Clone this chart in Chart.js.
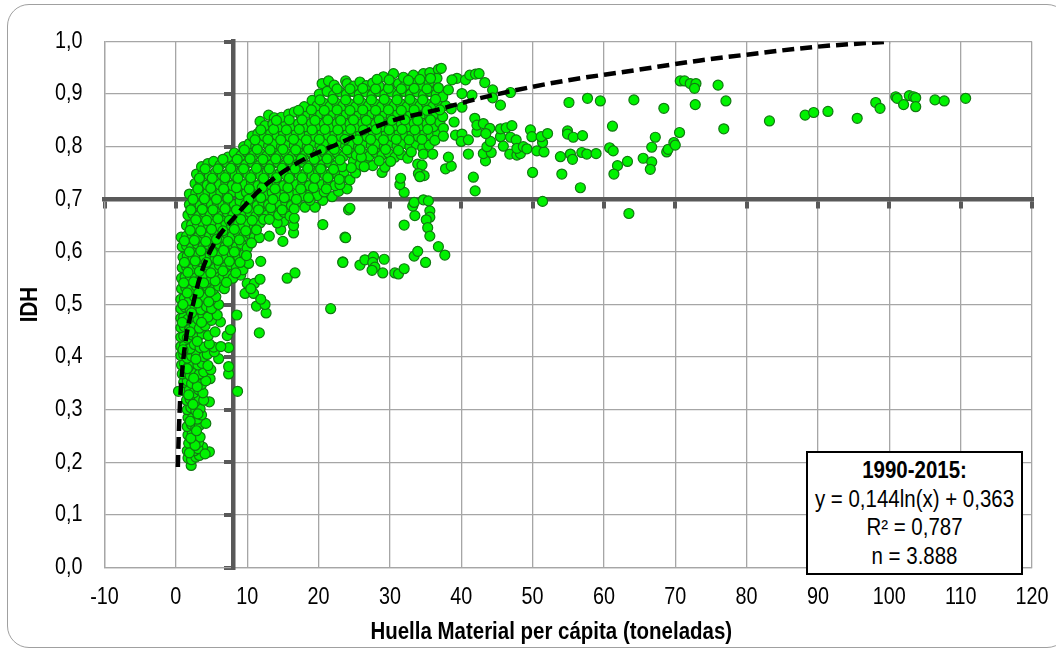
<!DOCTYPE html>
<html>
<head>
<meta charset="utf-8">
<script src="https://cdn.jsdelivr.net/npm/chart.js@4"></script>
<style>
  html, body { margin: 0; padding: 0; background: #fff; overflow: hidden; }
  #marco { position: absolute; left: 7px; top: 4px; width: 1060px; height: 642px; border: 1px solid #a0a0a0; border-radius: 22px; }
  #grafico { position: absolute; left: 0; top: 0; }
  #caja {
    position: absolute; left: 806px; top: 451px; width: 213px; height: 117px;
    border: 2px solid #000; background: #fff; color: #000; text-align: center;
    font: 23px/28.6px "Liberation Sans", sans-serif; padding-top: 3px; white-space: nowrap;
  }
  #caja span { display: block; margin: 0 -15px; transform: scaleX(0.89); }
</style>
</head>
<body>
<div id="marco"></div>
<canvas id="grafico" width="1056" height="648"></canvas>
<div id="caja"><span><b>1990-2015:</b></span><span>y = 0,144ln(x) + 0,363</span><span>R² = 0,787</span><span>n = 3.888</span></div>
<script>
const ticksHuella = ["-10", "0", "10", "20", "30", "40", "50", "60", "70", "80", "90", "100", "110", "120"];
const ticksIDH = ["0,0", "0,1", "0,2", "0,3", "0,4", "0,5", "0,6", "0,7", "0,8", "0,9", "1,0"];
const tituloX = "Huella Material per cápita (toneladas)";

// IDH < 0,5: columna estrecha de la izquierda
const puntosBajos = [
  [2.15,.194],[4.7,.22],[3.75,.229],[2.25,.229],[1.7,.208],[2.2,.205],[2.8,.21],[3.3,.213],[1.6,.222],[2.6,.222],[3.1,.226],[4.1,.216],
  [1.8,.236],[2.5,.24],[3.2,.238],[1.7,.252],[2.3,.255],[2.9,.25],[3.4,.248],[1.6,.268],[2.2,.272],[2.8,.265],[3.3,.27],[4.2,.274],
  [1.7,.285],[2.4,.288],[3,.282],[3.6,.29],[1.6,.3],[2.1,.304],[2.8,.298],[3.4,.302],[4.7,.315],[1.5,.318],[2,.32],[2.7,.315],[3.3,.322],[3.9,.318],
  [.37,.335],[1.3,.335],[1.9,.338],[2.5,.332],[3.2,.338],[3.8,.332],[8.65,.335],[1.1,.352],[1.6,.355],[2.2,.35],[3,.352],[3.6,.348],[4.8,.359],[4.2,.355],
  [.9,.368],[1.4,.372],[2,.365],[2.65,.37],[3.3,.368],[3.9,.372],[4.9,.376],[7.4,.368],[.8,.385],[1.2,.388],[1.8,.382],[2.4,.39],[3.1,.385],[3.7,.388],[4.5,.384],[7.4,.382],
  [.7,.403],[1.1,.405],[1.6,.398],[2.2,.402],[2.9,.405],[3.9,.401],[4.4,.405],[6,.397],[5.4,.41],[.7,.42],[1.2,.422],[1.7,.415],[2,.416],[2.6,.424],[3.4,.418],[4,.419],[5.3,.419],[7.4,.418],[4.7,.425],[6.3,.42],
  [.7,.438],[1.1,.44],[1.6,.436],[2.3,.442],[3,.437],[3.7,.444],[4.55,.441],[5.5,.448],[7.2,.441],[11.7,.446],[.7,.456],[1.2,.458],[1.9,.452],[2.6,.46],[3.3,.455],[4.1,.46],[7.65,.452],[6.25,.467],[5,.47],
  [.7,.474],[1.1,.476],[1.7,.472],[2.4,.478],[3.1,.472],[3.8,.48],[4.5,.476],[5.8,.48],[8.55,.48],[.7,.492],[1.3,.495],[2,.49],[2.7,.496],[3.5,.49],[4.3,.496],[5,.492],[6,.5],[12.65,.484],[11.3,.497],[12.5,.5],[21.7,.492]
];

// IDH 0,5 - 0,7: parte media de la curva
const puntosMedios = [
  [.7,.51],[1.2,.512],[1.9,.508],[2.6,.515],[3.3,.51],[4.1,.514],[4.9,.508],[5.6,.515],[9.7,.521],[10.9,.521],[11.9,.51],
  [.8,.53],[1.4,.532],[2.1,.528],[2.9,.535],[3.6,.53],[4.4,.534],[5.2,.528],[6,.535],[6.8,.53],[10,.54],[11,.54],[11.8,.548],[10.5,.53],
  [.8,.55],[1.3,.552],[2,.548],[2.7,.555],[3.5,.55],[4.2,.554],[5,.548],[5.8,.555],[6.5,.55],[7.3,.556],[8,.55],[9.1,.556],[15.6,.55],[16.7,.56],
  [.9,.57],[1.5,.572],[2.3,.568],[3,.575],[3.8,.57],[4.6,.574],[5.4,.568],[6.1,.575],[6.9,.57],[7.7,.576],[8.5,.57],[9.4,.566],[10.2,.578],[11.9,.582],
  [1,.59],[1.6,.592],[2.4,.588],[3.2,.595],[4,.59],[4.8,.594],[5.5,.588],[6.3,.595],[7.1,.59],[7.9,.596],[8.8,.59],[9.6,.596],
  [.9,.61],[1.5,.612],[2.2,.608],[3,.615],[3.8,.61],[4.6,.614],[5.3,.608],[6.1,.615],[6.9,.61],[7.7,.616],[8.5,.61],[9.2,.615],[10,.607],
  [.75,.628],[1.5,.63],[2.3,.632],[3.1,.628],[3.9,.635],[4.7,.63],[5.5,.634],[6.3,.628],[7.1,.635],[7.9,.63],[8.7,.636],[9.5,.63],[10.3,.635],[11,.628],[11.7,.627],[13.1,.63],[15,.62],
  [1.5,.65],[2.2,.652],[3,.648],[3.8,.655],[4.6,.65],[5.4,.654],[6.2,.648],[7,.655],[7.8,.65],[8.6,.656],[9.4,.65],[10.2,.655],[11,.648],[11.8,.655],[14.7,.642],[16.5,.636],[16.5,.65],[15.1,.658],[14.2,.655],
  [1.7,.67],[2.4,.672],[3.2,.668],[4,.675],[4.8,.67],[5.6,.674],[6.4,.668],[7.2,.675],[8,.67],[8.8,.676],[9.6,.67],[10.4,.675],[11.2,.668],[12,.675],[12.8,.67],[13.6,.676],[14.4,.67],[15.2,.675],[16,.668],[16.6,.664],[20.6,.652],
  [1.9,.69],[2.6,.692],[3.4,.688],[4.2,.695],[5,.69],[5.8,.694],[6.6,.688],[7.4,.695],[8.2,.69],[9,.696],[9.8,.69],[10.6,.695],[11.4,.688],[12.2,.695],[13,.69],[13.8,.696],[14.6,.69],[15.4,.695],[16.2,.688],[17,.694],[18.1,.685],[19.5,.685],[20.6,.698],[21.9,.705]
];

// IDH >= 0,7 hasta x = 38: la nube densa
const puntosNube = [
  [1.9,.71],[2.8,.712],[3.6,.708],[4.5,.714],[5.4,.708],[6.3,.713],[7.2,.707],[8.1,.714],[9,.709],[9.9,.713],[10.8,.707],[11.7,.714],[12.6,.709],[13.5,.713],[14.4,.707],[15.3,.714],[16.2,.708],[17.1,.713],[18,.706],[18.9,.712],[19.8,.707],[20.8,.714],[22.8,.715],
  [2.7,.73],[3.5,.732],[4.4,.727],[5.2,.733],[6.1,.728],[7,.732],[7.9,.726],[8.8,.733],[9.7,.728],[10.6,.732],[11.5,.726],[12.4,.733],[13.3,.728],[14.2,.732],[15.1,.726],[16,.733],[16.9,.728],[17.8,.732],[18.7,.726],[19.6,.733],[20.5,.728],[21.4,.732],[22.3,.726],[23.3,.74],[24,.72],
  [2.9,.748],[3.8,.75],[4.7,.745],[5.6,.752],[6.5,.746],[7.4,.75],[8.3,.745],[9.2,.752],[10.1,.747],[11,.75],[11.9,.745],[12.8,.752],[13.7,.747],[14.6,.75],[15.5,.745],[16.4,.752],[17.3,.747],[18.2,.75],[19.1,.745],[20,.752],[20.9,.747],[21.8,.75],[22.7,.745],[23.6,.752],[24.4,.737],[25.2,.75],
  [3.6,.762],[4.5,.768],[5.3,.772],[6.2,.765],[7.1,.77],[8,.764],[8.9,.771],[9.8,.766],[10.7,.77],[11.6,.764],[12.5,.771],[13.4,.766],[14.3,.77],[15.2,.764],[16.1,.771],[17,.766],[17.9,.77],[18.8,.764],[19.7,.771],[20.6,.766],[21.5,.77],[22.4,.764],[23.3,.762],[24.9,.772],[25.8,.766],[26.7,.77],[27.6,.764],[28.9,.751],[29.3,.761],
  [7.3,.78],[8.2,.788],[9.1,.783],[10,.789],[10.9,.784],[11.8,.788],[12.7,.782],[13.6,.789],[14.5,.784],[15.4,.788],[16.3,.782],[17.2,.789],[18.1,.784],[19,.788],[19.9,.782],[20.8,.789],[21.7,.784],[22.6,.788],[23.5,.782],[24.4,.789],[25.3,.784],[26.2,.788],[27.1,.782],[28,.789],[28.9,.784],[29.8,.788],[30.7,.78],[31.6,.785],[32.5,.778],
  [9.5,.8],[10.3,.806],[11.2,.801],[12.1,.807],[13,.802],[13.9,.806],[14.8,.8],[15.7,.807],[16.6,.802],[17.5,.806],[18.4,.8],[19.3,.807],[20.2,.802],[21.1,.806],[22,.8],[22.9,.807],[23.8,.802],[24.7,.806],[25.6,.8],[26.5,.807],[27.4,.802],[28.3,.806],[29.2,.8],[30.1,.807],[31,.802],[31.9,.806],[32.8,.8],[33.7,.805],[34.6,.798],[35.5,.803],
  [10.7,.82],[11.5,.825],[12.4,.82],[13.3,.826],[14.2,.821],[15.1,.825],[16,.819],[16.9,.826],[17.8,.821],[18.7,.825],[19.6,.819],[20.5,.826],[21.4,.821],[22.3,.825],[23.2,.819],[24.1,.826],[25,.821],[25.9,.825],[26.8,.819],[27.7,.826],[28.6,.821],[29.5,.825],[30.4,.819],[31.3,.826],[32.2,.821],[33.1,.825],[34,.819],[34.9,.826],[35.8,.821],[36.7,.825],
  [11.8,.848],[13,.86],[13.8,.855],[12.5,.84],[13.6,.843],[14.5,.838],[15.4,.845],[16.3,.84],[17.2,.844],[18.1,.838],[19,.845],[19.9,.84],[20.8,.844],[21.7,.838],[22.6,.845],[23.5,.84],[24.4,.844],[25.3,.838],[26.2,.845],[27.1,.84],[28,.844],[28.9,.838],[29.8,.845],[30.7,.84],[31.6,.844],[32.5,.838],[33.4,.845],[34.3,.84],[35.2,.844],[36.1,.838],[37,.846],
  [14.8,.856],[15.8,.862],[16.6,.866],[17.6,.858],[18.5,.864],[19.4,.857],[20.3,.863],[21.2,.858],[22.1,.864],[23,.857],[23.9,.863],[24.8,.858],[25.7,.864],[26.6,.857],[27.5,.863],[28.4,.858],[29.3,.864],[30.2,.857],[31.1,.863],[32,.858],[32.9,.864],[33.8,.857],[34.7,.863],[35.6,.858],[36.5,.864],[37.4,.857],
  [18,.876],[19.1,.888],[19.8,.878],[20.7,.883],[21.6,.877],[22.5,.883],[23.4,.878],[24.3,.882],[25.2,.876],[26.1,.883],[27,.878],[27.9,.882],[28.8,.876],[29.7,.883],[30.6,.878],[31.5,.882],[32.4,.876],[33.3,.883],[34.2,.878],[35.1,.882],[36,.876],[36.9,.883],[37.8,.878],[38.6,.872],
  [20.1,.9],[20.5,.92],[21.4,.925],[21.2,.905],[22.1,.898],[23,.904],[23.8,.925],[23.9,.9],[24.8,.905],[25.7,.9],[26.6,.904],[27.5,.898],[28.4,.905],[29.3,.9],[30.2,.904],[31.1,.898],[32,.905],[32.9,.9],[33.8,.904],[34.7,.898],[35.6,.905],[36.5,.9],[37.4,.895],[38.2,.908],
  [22.2,.917],[24,.92],[24.9,.915],[25.8,.923],[26.7,.916],[27.6,.921],[28.5,.915],[29.1,.933],[30,.918],[30.5,.939],[31.2,.92],[32.1,.916],[33.3,.936],[33.4,.92],[34.7,.939],[34.4,.917],[35.6,.941],[35.5,.921],[36.8,.947],[37.2,.949],[36.6,.93],[31.9,.932]
];

// segunda pasada por las zonas mas tupidas, donde los circulos se montan
const puntosRelleno = [
  [1.9,.218],[2.7,.232],[2.1,.246],[2.9,.26],[2,.278],[3.1,.292],[2.4,.31],[1.8,.328],[3,.344],[2.5,.36],[1.6,.378],[2.8,.396],[1,.414],[3,.43],[2,.448],[.9,.466],[3.6,.466],[2.2,.484],[1,.5],[3,.503],[4.6,.505],
  [1.6,.522],[3.2,.522],[4.8,.524],[1.1,.541],[2.5,.543],[3.9,.541],[5.5,.545],[7.1,.542],[1.7,.561],[3.3,.563],[4.9,.56],[6.6,.564],[8.4,.56],[1.2,.58],[2.7,.583],[4.3,.58],[5.9,.584],[7.5,.582],[9,.58],
  [1.9,.6],[3.5,.602],[5.1,.6],[6.7,.603],[8.2,.6],[9.9,.593],[1.2,.621],[2.6,.622],[4.2,.62],[5.7,.624],[7.3,.62],[8.9,.623],[10.6,.617],[2,.641],[3.5,.64],[5,.643],[6.6,.64],[8.2,.643],[9.8,.64],[11.3,.642],[2.8,.661],[4.3,.66],[5.9,.663],[7.5,.66],[9.1,.662],[10.7,.66],[12.3,.662],[13.1,.662],
  [2.1,.68],[3.7,.681],[5.2,.68],[6.9,.682],[8.5,.68],[10,.683],[11.6,.68],[13.3,.684],[14.9,.68],[16.6,.682],[18.8,.698],[2.4,.7],[4,.701],[5.7,.7],[7.3,.702],[10.2,.7],[11.9,.703],[13.6,.7],[15.2,.703],[16.9,.7],[18.6,.703],
  [3.1,.72],[4.9,.721],[6.7,.72],[8.5,.722],[10.3,.72],[12.1,.722],[13.9,.72],[15.7,.722],[17.5,.72],[19.3,.722],[21.1,.72],[23,.728],[3.3,.74],[5.1,.74],[6.9,.741],[8.7,.74],[10.5,.741],[12.3,.74],[14.1,.741],[15.9,.74],[17.7,.741],[19.5,.74],[21.3,.741],[22.9,.738],[24.6,.76],
  [4.1,.758],[5.9,.758],[7.7,.759],[9.5,.758],[11.3,.759],[13.1,.758],[14.9,.759],[16.7,.758],[18.5,.759],[20.3,.758],[22.1,.757],[26,.78],[6.6,.776],[8.6,.776],[10.4,.777],[12.2,.776],[14,.777],[15.8,.776],[17.6,.777],[19.4,.776],[21.2,.777],[23,.775],[26.4,.762],[28.5,.773],[30.1,.772],
  [9.6,.794],[11.4,.795],[13.2,.794],[15,.795],[16.8,.794],[18.6,.795],[20.4,.794],[22.2,.795],[24,.794],[25.8,.795],[27.6,.794],[29.4,.795],[31.2,.793],[33,.79],[34.7,.786],[11.1,.813],[12.9,.814],[14.7,.813],[16.5,.814],[18.3,.813],[20.1,.814],[21.9,.813],[23.7,.814],[25.5,.813],[27.3,.814],[29.1,.813],[30.9,.814],[32.7,.813],[34.5,.814],[36.3,.812],
  [11.9,.832],[13.7,.833],[15.5,.832],[17.3,.833],[19.1,.832],[20.9,.833],[22.7,.832],[24.5,.833],[26.3,.832],[28.1,.833],[29.9,.832],[31.7,.833],[33.5,.832],[35.3,.833],[37.5,.835],[14.1,.85],[15.9,.851],[17.7,.851],[19.5,.85],[21.3,.851],[23.1,.85],[24.9,.851],[26.7,.85],[28.5,.851],[30.3,.85],[32.1,.851],[33.9,.85],[35.7,.851],
  [17.2,.869],[19,.87],[20.8,.869],[22.6,.87],[24.4,.869],[26.2,.87],[28,.869],[29.8,.87],[31.6,.869],[33.4,.87],[35.2,.869],[37,.87],[20.2,.889],[22,.89],[23.8,.889],[25.6,.89],[27.4,.889],[29.2,.89],[31,.889],[32.8,.89],[34.6,.889],[36.4,.89],[22.6,.91],[24.4,.91],[26.2,.911],[28,.91],[29.8,.911],[31.6,.91],[33.4,.911],[35.2,.91],[36.8,.912],[28.2,.928],[29.9,.927],[32.6,.926],[34.2,.928],[35.7,.93]
];

// a la derecha de la nube: puntos sueltos que se leen uno a uno
const puntosSueltos = [
  [23.4,.581],[23.7,.628],[24.2,.68],[24.4,.683],[23.8,.627],[23.4,.58],[25.8,.575],[26.5,.585],[27.7,.591],[27.6,.58],[27.9,.571],[27.5,.565],[29,.56],[29.2,.586],[30.7,.56],[31.2,.558],[32,.568],[33.4,.592],[33.9,.601],[35,.58],[36.8,.61],[37.7,.594],
  [32,.651],[33.5,.669],[33.2,.687],[33.4,.694],[34.7,.699],[35.4,.697],[35.6,.678],[35.6,.666],[35.1,.661],[35.3,.646],[35.6,.63],[32,.713],[31.4,.728],[31.5,.74],[33.9,.767],[34.5,.765],[34,.749],[34.8,.745],[34.2,.743],
  [37.8,.758],[38.6,.763],[38.2,.78],[36,.786],[41,.786],[41.7,.742],[41.95,.716],[43.4,.773],[43.1,.787],[44.2,.789],[43.6,.8],[44.1,.81],[37.5,.82],[39.2,.822],[40.1,.824],[40,.81],[41,.813],[42.2,.828],[41.9,.854],[42.2,.841],[43.1,.844],[44,.835],[43.45,.825],[39,.847],
  [41.5,.898],[40.1,.901],[40.1,.875],[39.4,.93],[38.7,.927],[40.6,.927],[41.2,.936],[42,.938],[42.5,.939],[43.3,.922],[44.4,.908],[44.4,.893],[45.5,.879],[46.9,.903],[45.5,.819],[45.5,.834],[46.3,.836],[47.1,.84],[45.9,.801],[46.9,.818],[47.7,.813],[46.8,.786],[47.8,.784],[48.3,.787],[47.8,.797],[48.7,.8],[49.2,.796],
  [49.7,.832],[49.9,.819],[50.6,.792],[51.6,.79],[51.4,.808],[51.2,.819],[52.1,.825],[50,.751],[51.4,.696],[53.9,.781],[55.3,.786],[55.6,.776],[54.1,.748],[56.7,.722],[55.1,.884],[57.7,.892],[59.5,.887],[54.9,.83],[54.9,.824],[55.7,.818],[57,.821],[56.9,.789],[57.6,.786],[58.9,.787],
  [61.2,.839],[60.8,.798],[61.3,.792],[61.9,.764],[61.4,.748],[63.3,.772],[63.5,.673],[64.2,.889],[65.5,.778],[66.7,.771],[66.5,.757],[66.7,.799],[67.2,.818],[68.4,.873],[68.8,.79],[69,.795],[69.8,.808],[70,.803],[70.6,.827],[70.7,.925],[71.3,.925],[72.1,.92],[72.9,.92],[72.7,.911],[72.8,.88],
  [76,.917],[77.1,.887],[76.8,.834],[83.2,.849],[88.2,.86],[89.4,.865],[91.4,.867],[95.5,.854],[98.1,.884],[98.7,.873],[100.9,.895],[101.1,.892],[102,.88],[102.8,.897],[103.4,.895],[103.7,.893],[103.7,.876],[106.4,.889],[107.7,.887],[110.7,.892]
];

// linea de tendencia
const tendenciaX = [0.28, 0.4, 0.6, 1.0, 1.45, 2.24, 3.4, 5.25, 8.3, 12.3, 17.4, 23, 30, 36.6, 41.7, 46.8, 54.8, 63.2, 73.5, 80, 89.8, 100.1];
const tendenciaY = [0.191, 0.248, 0.318, 0.389, 0.438, 0.49, 0.553, 0.613, 0.667, 0.724, 0.772, 0.807, 0.848, 0.87, 0.889, 0.905, 0.926, 0.943, 0.964, 0.975, 0.99, 1.0];

const todos = [...puntosBajos, ...puntosMedios, ...puntosNube, ...puntosRelleno, ...puntosSueltos];
const fuente = '"Liberation Sans", sans-serif';
const gris = "#a6a6a6";
const grisOscuro = "#595959";

const ejeX = { min: -10, max: 120 };
const ejeY = { min: 0, max: 1 };

// the reference uses a condensed Arial and there is no narrow face here,
// so squeeze the text horizontally when the chart writes it
const ajusteTexto = {
  id: "ajusteTexto",
  beforeDraw(chart) {
    const ctx = chart.ctx;
    if (ctx._apretado) return;
    ctx._apretado = true;
    const original = ctx.fillText;
    ctx.fillText = function (t, x, y) {
      this.save();
      this.translate(x + (t === tituloX ? -17 : 0), y);
      this.scale(this.font.includes("bold") ? 0.89 : 0.86, 1);
      original.call(this, t, 0, 0);
      this.restore();
    };
  },
};

new Chart(document.getElementById("grafico"), {
  type: "scatter",
  plugins: [ajusteTexto],
  data: {
    datasets: [
      {
        label: "Tendencia",
        data: tendenciaX.map((x, i) => ({ x: x, y: tendenciaY[i] })),
        showLine: true,
        cubicInterpolationMode: "monotone",
        borderColor: "#000",
        borderWidth: 4.5,
        borderDash: [12, 6],
        pointRadius: 0,
        order: 0,
      },
      {
        label: "Paises",
        data: todos.map((p) => ({ x: p[0], y: p[1] })),
        backgroundColor: "#00f200",
        borderColor: "#127a12",
        borderWidth: 1.2,
        pointRadius: 5,
        order: 1,
      },
    ],
  },
  options: {
    responsive: false,
    animation: false,
    layout: { padding: { left: 0, top: 41.5, right: 24, bottom: 0 } },
    plugins: { legend: { display: false }, tooltip: { enabled: false } },
    scales: {
      x: {
        type: "linear",
        ...ejeX,
        afterFit: (s) => { s.height = 648 - 567.5; },
        border: { color: gris, width: 1.3 },
        // invisible tick marks push the labels down: ticks.padding would eat the right margin
        grid: { color: gris, lineWidth: 1.3, tickColor: "rgba(0,0,0,0)", tickLength: 13 },
        ticks: {
          stepSize: 10,
          padding: 3,
          color: "#000",
          font: { family: fuente, size: 23 },
          callback: (v, i) => ticksHuella[i],
          maxRotation: 0,
        },
        title: {
          display: true,
          text: tituloX,
          color: "#000",
          font: { family: fuente, size: 23, weight: "bold" },
          padding: { top: 0, bottom: 2 },
        },
      },
      y: {
        type: "linear",
        ...ejeY,
        afterFit: (s) => { s.width = 104.5; },
        border: { color: gris, width: 1.3 },
        grid: { color: gris, lineWidth: 1.3, drawTicks: false },
        ticks: {
          stepSize: 0.1,
          padding: 22,
          color: "#000",
          font: { family: fuente, size: 23 },
          callback: (v, i) => ticksIDH[i],
        },
        title: {
          display: true,
          text: "IDH",
          color: "#000",
          font: { family: fuente, size: 23, weight: "bold" },
          padding: { top: 17, bottom: 0 },
        },
      },
      // ejes gruesos: cruzan en x = 8 e IDH = 0,7
      ejeCruceV: {
        type: "linear",
        axis: "y",
        ...ejeY,
        position: { x: 8 },
        afterFit: (s) => { s.width = 0; },
        border: { color: grisOscuro, width: 4.5 },
        grid: { drawOnChartArea: false, color: grisOscuro, lineWidth: 4, tickLength: 7 },
        ticks: { stepSize: 0.1, display: false },
      },
      ejeCruceH: {
        type: "linear",
        axis: "x",
        ...ejeX,
        position: { y: 0.7 },
        afterFit: (s) => { s.height = 0; },
        border: { color: grisOscuro, width: 4.5 },
        grid: { drawOnChartArea: false, color: grisOscuro, lineWidth: 4, tickLength: 7 },
        ticks: { stepSize: 10, display: false },
      },
    },
  },
});
</script>
</body>
</html>
